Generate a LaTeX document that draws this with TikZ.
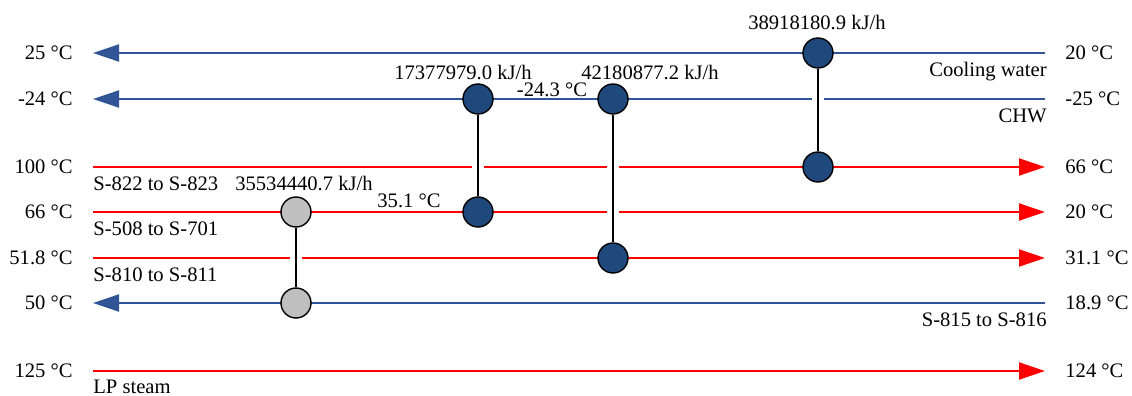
\documentclass[tikz,border=0pt]{standalone}
\usepackage{fontspec}
\setmainfont{Liberation Serif}
\usepackage{xcolor}
\usetikzlibrary{arrows.meta,positioning}
\definecolor{hotred}{RGB}{255,0,0}
\definecolor{coldblue}{RGB}{47,85,151}
\definecolor{hxblue}{RGB}{31,73,125}
\definecolor{hxgray}{RGB}{191,191,191}
\tikzset{
  hotline/.style={-{Triangle[length=13pt,width=8.5pt]}, line width=1pt, draw=hotred},
  coldline/.style={-{Triangle[length=13pt,width=8.5pt]}, line width=1pt, draw=coldblue},
  hxunit/.style={circle, draw=black, line width=0.7pt, fill=hxblue, minimum size=15pt, inner sep=0pt},
  hxlink/.style={line width=1pt, draw=black, preaction={draw=white, line width=6pt, shorten <=2pt, shorten >=2pt}},
  tagtext/.style={inner sep=0pt}
}

\begin{document}
\begin{tikzpicture}[x=0.5pt, y=-0.5pt, font=\fontsize{10.3}{12}\selectfont]
\useasboundingbox (0,0) rectangle (1132,396);
% stream end points
\foreach \s/\y in {cw/53, chw/99, s822/167, s508/212, s810/258, s815/303, lps/371}{
  \coordinate (\s L) at (93,\y);
  \coordinate (\s R) at (1045,\y);
}
% cold streams run right to left
\draw[coldline] (cwR) -- (cwL);
\draw[coldline] (chwR) -- (chwL);
\draw[coldline] (s815R) -- (s815L);
% hot streams run left to right
\draw[hotline] (s822L) -- (s822R);
\draw[hotline] (s508L) -- (s508R);
\draw[hotline] (s810L) -- (s810R);
\draw[hotline] (lpsL) -- (lpsR);

% temperatures at both ends
\node[tagtext, left=10pt of cwL] (cwT1) {25 °C};
\node[tagtext, right=10pt of cwR] (cwT2) {20 °C};
\node[tagtext, left=10pt of chwL] (chwT1) {-24 °C};
\node[tagtext, right=10pt of chwR] (chwT2) {-25 °C};
\node[tagtext, left=10pt of s822L] (s822T1) {100 °C};
\node[tagtext, right=10pt of s822R] (s822T2) {66 °C};
\node[tagtext, left=10pt of s508L] (s508T1) {66 °C};
\node[tagtext, right=10pt of s508R] (s508T2) {20 °C};
\node[tagtext, left=10pt of s810L] (s810T1) {51.8 °C};
\node[tagtext, right=10pt of s810R] (s810T2) {31.1 °C};
\node[tagtext, left=10pt of s815L] (s815T1) {50 °C};
\node[tagtext, right=10pt of s815R] (s815T2) {18.9 °C};
\node[tagtext, left=10pt of lpsL] (lpsT1) {125 °C};
\node[tagtext, right=10pt of lpsR] (lpsT2) {124 °C};

% stream names under the lines
\node[tagtext, below left=4.5pt and -1pt of cwR] (cwname) {Cooling water};
\node[tagtext, below left=4.5pt and -1pt of chwR] (chwname) {CHW};
\node[tagtext, below left=4.5pt and -1pt of s815R] (s815name) {S-815 to S-816};
\node[tagtext, below right=4.5pt and 0pt of s822L] (s822name) {S-822 to S-823};
\node[tagtext, below right=4.5pt and 0pt of s508L] (s508name) {S-508 to S-701};
\node[tagtext, below right=4.5pt and 0pt of s810L] (s810name) {S-810 to S-811};
\node[tagtext, below right=4.5pt and 0pt of lpsL] (lpsname) {LP steam};

% exchangers
\node[hxunit] (hx1a) at (818,53) {};
\node[hxunit] (hx1b) at (818,167) {};
\node[hxunit] (hx2a) at (478,99) {};
\node[hxunit] (hx2b) at (478,212) {};
\node[hxunit] (hx3a) at (613,99) {};
\node[hxunit] (hx3b) at (613,258) {};
\node[hxunit, fill=hxgray] (hx4a) at (296,212) {};
\node[hxunit, fill=hxgray] (hx4b) at (296,303) {};
\foreach \u/\v in {hx1a/hx1b,hx2a/hx2b,hx3a/hx3b,hx4a/hx4b}{\draw[hxlink] (\u) -- (\v);}

% duties and intermediate temperatures
\node[tagtext, anchor=base] (hx1q) at (817,29) {38918180.9 kJ/h};
\node[tagtext, anchor=base] (hx2q) at (463,79) {17377979.0 kJ/h};
\node[tagtext, anchor=base] (hx3q) at (650,79) {42180877.2 kJ/h};
\node[tagtext, anchor=base] (hx4q) at (304,190) {35534440.7 kJ/h};
\node[tagtext, anchor=base] (chwmid) at (552,97) {-24.3 °C};
\node[tagtext, anchor=base] (s508mid) at (409,207) {35.1 °C};
\end{tikzpicture}
\end{document}
